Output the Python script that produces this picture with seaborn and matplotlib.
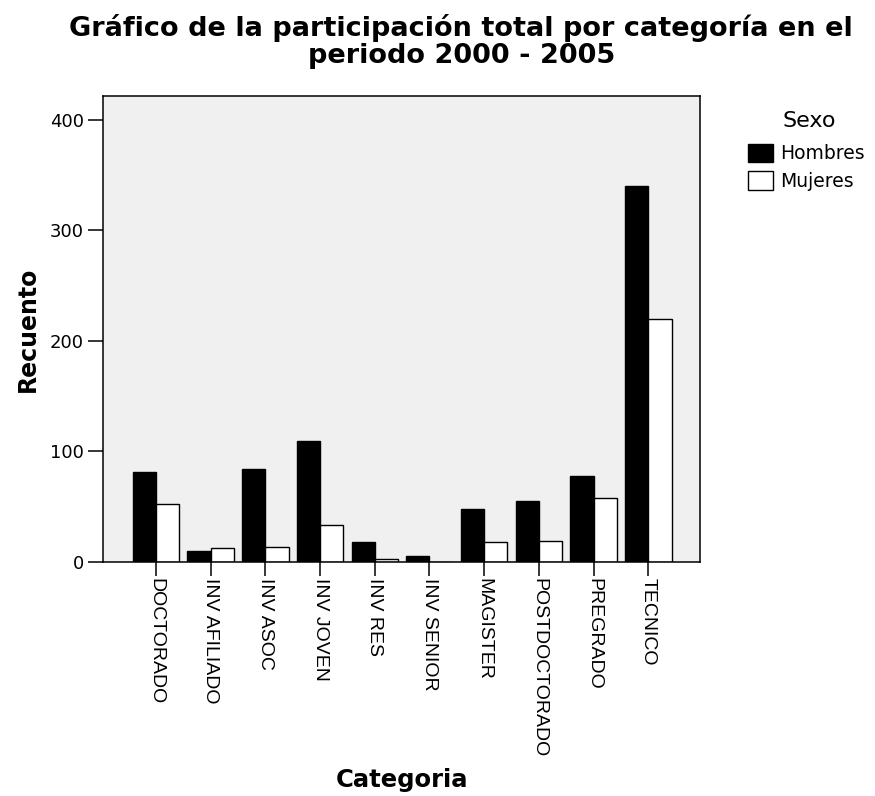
import matplotlib
matplotlib.use('Agg')
import matplotlib.pyplot as plt
import seaborn as sns
import pandas as pd

# Data
categorias = ['DOCTORADO', 'INV AFILIADO', 'INV ASOC', 'INV JOVEN', 'INV RES',
              'INV SENIOR', 'MAGISTER', 'POSTDOCTORADO', 'PREGRADO', 'TECNICO']
hombres = [81, 10, 84, 109, 18, 5, 48, 55, 78, 340]
mujeres = [52, 12, 13, 33, 2, 0, 18, 19, 58, 220]
sexos = ['Hombres', 'Mujeres']
yticks = [0, 100, 200, 300, 400]

df = pd.DataFrame({
    'Categoria': categorias * 2,
    'Sexo': ['Hombres'] * len(categorias) + ['Mujeres'] * len(categorias),
    'Recuento': hombres + mujeres,
})

sns.set_theme(style='white')
plt.rcParams['font.family'] = ['DejaVu Sans']
plt.rcParams['text.color'] = 'black'
plt.rcParams['axes.labelcolor'] = 'black'
plt.rcParams['xtick.color'] = 'black'
plt.rcParams['ytick.color'] = 'black'

fig = plt.figure(figsize=(8.75, 7.96), dpi=100)
ax = fig.add_axes([103.3 / 875, 1 - 561.7 / 796, (700 - 103.3) / 875, (561.7 - 96) / 796])
ax.set_facecolor('#f0f0f0')

sns.barplot(data=df, x='Categoria', y='Recuento', hue='Sexo', hue_order=sexos,
            order=categorias, palette={'Hombres': 'black', 'Mujeres': 'white'},
            edgecolor='black', linewidth=1.0, width=0.85, gap=0, ax=ax,
            errorbar=None, saturation=1)

ax.set_xlim(-0.963, 9.945)
ax.set_ylim(0, 421.5)
ax.set_yticks(yticks)

for s in ax.spines.values():
    s.set_color('black')
    s.set_linewidth(1.1)

ax.tick_params(axis='y', direction='out', length=11, width=1.1, pad=3,
               labelsize=13, left=True)
ax.tick_params(axis='x', direction='out', length=10, width=1.1, pad=2,
               bottom=True)
for lab in ax.get_xticklabels():
    lab.set_rotation(-90)
    lab.set_va('top')
    lab.set_ha('center')
    lab.set_family('Liberation Sans')
    lab.set_fontsize(14)

ax.set_xlabel('Categoria', fontsize=17.5, fontweight='bold')
ax.set_ylabel('Recuento', fontsize=17, fontweight='bold')
ax.xaxis.set_label_coords(0.5, -(768 - 561.7) / (561.7 - 96))
ax.yaxis.set_label_coords((40 - 103.3) / (700 - 103.3), 0.5)

fig.text(0.527, 1 - 14 / 796, 'Gráfico de la participación total por categoría en el\nperiodo 2000 - 2005',
         ha='center', va='top', fontsize=19.5, fontweight='bold', linespacing=1.05)

# legend title drawn on its own so the gap to the entries can match
fig.text(809 / 875, 1 - 121 / 796, 'Sexo', ha='center', va='center', fontsize=16)
leg = ax.legend(loc='upper left', bbox_to_anchor=(748 / 875, 1 - 144 / 796),
                bbox_transform=fig.transFigure, frameon=False,
                fontsize=13.5, handlelength=1.33, handleheight=1.12,
                handletextpad=0.4, labelspacing=0.42, borderaxespad=0, borderpad=0)
for h in leg.legend_handles:
    h.set_edgecolor('black')
    h.set_linewidth(1.0)

fig.savefig('out.png', dpi=100)
